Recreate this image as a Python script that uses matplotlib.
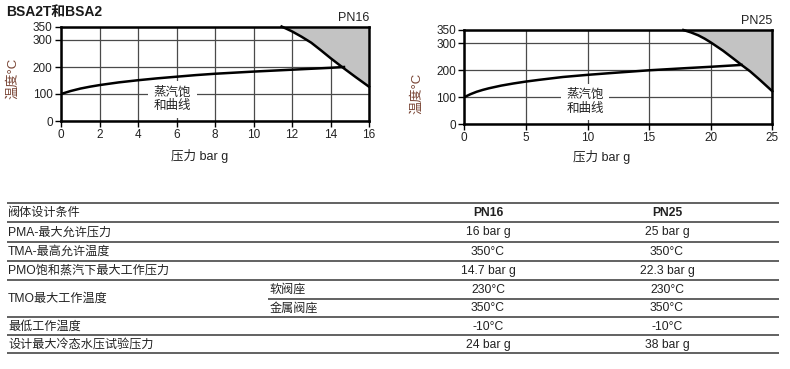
import matplotlib
matplotlib.use("Agg")
import matplotlib.pyplot as plt
from matplotlib.patches import Polygon

plt.rcParams['font.family'] = ['Liberation Sans', 'Noto Sans CJK SC']
plt.rcParams['axes.unicode_minus'] = False

# ---------------- data ----------------
title = "BSA2T和BSA2"
xlabel = "压力 bar g"
ylabel = "温度°C"
curve_label = "蒸汽饱\n和曲线"
yticks = [0, 100, 200, 300, 350]

pn16_xticks = [0, 2, 4, 6, 8, 10, 12, 14, 16]
pn16_sat_p = [0, 0.5, 1, 1.5, 2, 3, 4, 5, 6, 7, 8, 9, 10, 12, 14, 14.7]
pn16_sat_t = [100, 111, 120, 127, 133, 143, 151, 158, 164, 170, 175, 179, 183, 190, 197, 200]
pn16_lim_p = [11.46, 12, 12.5, 13, 13.5, 14, 14.6, 15.3, 16]
pn16_lim_t = [350, 332, 312, 290, 262, 233, 200, 163, 127]

pn25_xticks = [0, 5, 10, 15, 20, 25]
pn25_sat_p = [0, 0.5, 1, 1.5, 2, 3, 4, 5, 6, 8, 10, 12, 15, 18, 20, 22.5]
pn25_sat_t = [100, 111, 120, 127, 133, 143, 151, 158, 164, 175, 183, 190, 200, 208, 213, 220]
pn25_lim_p = [17.78, 18.4, 19, 19.5, 20, 21, 22, 22.5, 23.2, 24, 25]
pn25_lim_t = [350, 341, 330, 318, 304, 273, 238, 220, 196, 164, 122]

table_header = ["阀体设计条件", "", "PN16", "PN25"]
row_labels = ["PMA-最大允许压力", "TMA-最高允许温度", "PMO饱和蒸汽下最大工作压力",
              "TMO最大工作温度", "最低工作温度", "设计最大冷态水压试验压力"]
sub_labels = ["软阀座", "金属阀座"]
pn16_values = ["16 bar g", "350°C", "14.7 bar g", ["230°C", "350°C"], "-10°C", "24 bar g"]
pn25_values = ["25 bar g", "350°C", "22.3 bar g", ["230°C", "350°C"], "-10°C", "38 bar g"]

# ---------------- figure ----------------
W, H = 790, 369
fig = plt.figure(figsize=(W / 100, H / 100), dpi=100)
TXT = '#222222'
GRID = '#4a4a4a'
FILL = '#c3c3c3'


def px_axes(x0, x1, ytop, ybot):
    return fig.add_axes([x0 / W, 1 - ybot / H, (x1 - x0) / W, (ybot - ytop) / H])


def draw_chart(ax, xmax, xticks, sat_p, sat_t, lim_p, lim_t, tag, lab_x, lab_y):
    ax.set_xlim(0, xmax)
    ax.set_ylim(0, 350)
    ax.set_xticks(xticks)
    ax.set_yticks(yticks)
    ax.grid(True, color=GRID, lw=0.9, zorder=0)
    ax.set_axisbelow(True)
    poly = Polygon(list(zip(lim_p, lim_t)) + [(xmax, 350)], closed=True,
                   facecolor=FILL, edgecolor='none', zorder=1)
    ax.add_patch(poly)
    ax.plot(lim_p, lim_t, color='black', lw=1.8, zorder=3, clip_on=False,
            solid_joinstyle='round')
    ax.plot(sat_p, sat_t, color='black', lw=1.8, zorder=3, solid_joinstyle='round')
    for s in ax.spines.values():
        s.set_linewidth(1.8)
        s.set_zorder(4)
    ax.tick_params(direction='out', length=4, width=1, labelsize=8.5,
                   colors='black', labelcolor=TXT, pad=2)
    ax.text(lab_x, lab_y, curve_label, ha='center', va='center', fontsize=9,
            color=TXT, linespacing=1.2, zorder=2,
            bbox=dict(facecolor='white', edgecolor='none', pad=4))
    ax.text(1.0, 1.03, tag, transform=ax.transAxes, ha='right', va='bottom',
            fontsize=9, color=TXT)


ax1 = px_axes(61, 369, 26.5, 121)
draw_chart(ax1, 16, pn16_xticks, pn16_sat_p, pn16_sat_t, pn16_lim_p, pn16_lim_t,
           "PN16", 5.8, 80)
ax2 = px_axes(464.3, 772.3, 30, 124)
draw_chart(ax2, 25, pn25_xticks, pn25_sat_p, pn25_sat_t, pn25_lim_p, pn25_lim_t,
           "PN25", 9.8, 82)

# axis labels
fig.text(200 / W, 1 - 156 / H, xlabel, ha='center', va='center', fontsize=9, color=TXT)
fig.text(602 / W, 1 - 157 / H, xlabel, ha='center', va='center', fontsize=9, color=TXT)
fig.text(13 / W, 1 - 78 / H, ylabel, ha='center', va='center', rotation=90,
         fontsize=9.5, color='#7a4636')
fig.text(417 / W, 1 - 93 / H, ylabel, ha='center', va='center', rotation=90,
         fontsize=9.5, color='#7a4636')

# title
fig.text(6 / W, 1 - 12 / H, title, ha='left', va='center', fontsize=10,
         fontweight='bold', color='#1a1a1a')

# ---------------- table ----------------
tax = fig.add_axes([0, 0, 1, 1])
tax.set_xlim(0, W)
tax.set_ylim(H, 0)
tax.axis('off')

TL, TR = 7, 779
SUBX = 268
C16, C25 = 488, 667
LINEC = '#555555'
FS = 8.7

# row boundaries (px)
bounds = [203.3, 222.3, 241.7, 260.7, 280, 317.3, 335, 353.3]
for b in bounds:
    tax.plot([TL, TR], [b, b], color=LINEC, lw=1.3, solid_capstyle='butt')
mid_tmo = (bounds[4] + bounds[5]) / 2
tax.plot([SUBX, TR], [mid_tmo, mid_tmo], color=LINEC, lw=1.3, solid_capstyle='butt')

# header
hy = (bounds[0] + bounds[1]) / 2 + 0.5
tax.text(TL + 1, hy, table_header[0], ha='left', va='center', fontsize=FS, color=TXT)
tax.text(C16, hy, table_header[2], ha='center', va='center', fontsize=FS,
         fontweight='bold', color=TXT)
tax.text(C25, hy, table_header[3], ha='center', va='center', fontsize=FS,
         fontweight='bold', color=TXT)

for i, lab in enumerate(row_labels):
    y0, y1 = bounds[i + 1], bounds[i + 2]
    yc = (y0 + y1) / 2 + 0.5
    tax.text(TL + 1, yc, lab, ha='left', va='center', fontsize=FS, color=TXT)
    v16, v25 = pn16_values[i], pn25_values[i]
    if isinstance(v16, list):
        subs = [(y0 + mid_tmo) / 2 + 0.5, (mid_tmo + y1) / 2 + 0.5]
        for j, sy in enumerate(subs):
            tax.text(SUBX + 2, sy, sub_labels[j], ha='left', va='center',
                     fontsize=FS, color=TXT)
            tax.text(C16, sy, v16[j], ha='center', va='center', fontsize=FS, color=TXT)
            tax.text(C25, sy, v25[j], ha='center', va='center', fontsize=FS, color=TXT)
    else:
        tax.text(C16, yc, v16, ha='center', va='center', fontsize=FS, color=TXT)
        tax.text(C25, yc, v25, ha='center', va='center', fontsize=FS, color=TXT)

fig.savefig("out.png", dpi=100)
